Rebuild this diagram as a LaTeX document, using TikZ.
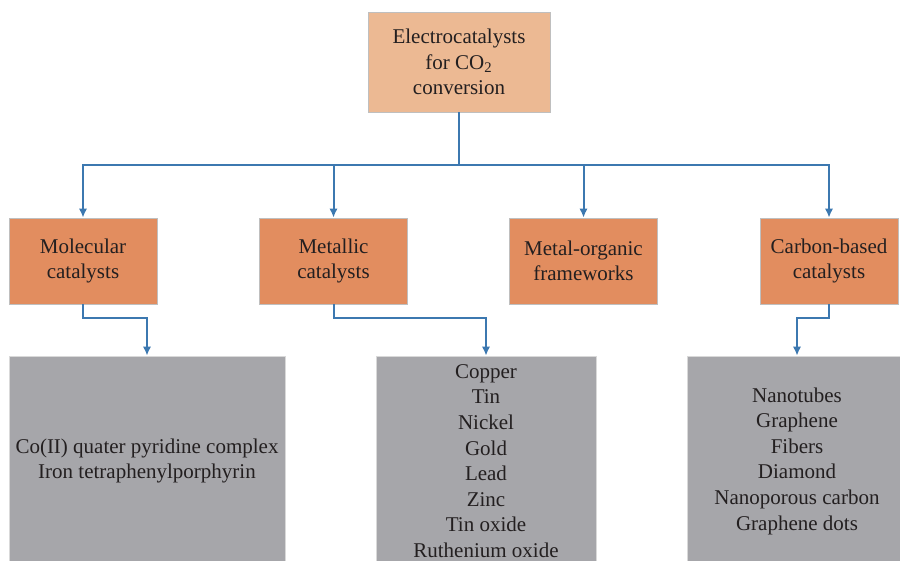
\documentclass[tikz,border=0pt]{standalone}
\usepackage{fontspec}
\setmainfont{Liberation Serif}
\usetikzlibrary{arrows.meta}
\definecolor{paleorange}{RGB}{236,185,147}
\definecolor{midorange}{RGB}{226,141,95}
\definecolor{boxgray}{RGB}{166,166,170}
\definecolor{linkblue}{RGB}{60,120,176}
\definecolor{inkgray}{RGB}{35,31,32}
\begin{document}
\begin{tikzpicture}[x=0.5pt, y=-0.5pt,
        every node/.style={font=\fontsize{10.5}{12.8}\selectfont, text=inkgray, align=center, inner sep=0pt},
        rootbox/.style={fill=paleorange, draw=black!25, line width=0.4pt, minimum width=91pt, minimum height=50pt},
        classbox/.style={fill=midorange, draw=black!25, line width=0.4pt, minimum width=74pt, minimum height=43pt},
        listbox/.style={fill=boxgray, draw=black!15, line width=0.4pt, minimum width=110pt, minimum height=105pt},
        link/.style={linkblue, line width=1pt},
        arr/.style={link, -{Latex[length=4.5pt, width=4.2pt]}}]
    \clip (0,0) rectangle (900,561);

    \node[rootbox] (root) at (459,62) {Electrocatalysts\\for CO\textsubscript{2}\\conversion};

    \node[classbox] (mol) at (83,261) {Molecular\\catalysts};
    \node[classbox] (met) at (333.5,261) {Metallic\\catalysts};
    \node[classbox] (mof) at (583.5,261) {Metal-organic\\frameworks};
    \node[classbox, minimum width=69pt] (carb) at (829,261) {Carbon-based\\catalysts};

    \node[listbox, minimum width=138pt] (molitems) at (147,461) {Co(II) quater pyridine complex\\Iron tetraphenylporphyrin};
    \node[listbox] (metitems) at (486,461) {Copper\\Tin\\Nickel\\Gold\\Lead\\Zinc\\Tin oxide\\Ruthenium oxide};
    \node[listbox] (carbitems) at (797,461) {Nanotubes\\Graphene\\Fibers\\Diamond\\Nanoporous carbon\\Graphene dots};

    \path (root.south) ++(0,53) coordinate (hub);
    \draw[link] (root.south) -- (hub);
    \foreach \n in {mol,met,mof,carb}
        \draw[arr] (hub) -| (\n.north);

    \draw[arr] (mol.south) -- ++(0,14) -| (molitems.north);
    \draw[arr] (met.south) -- ++(0,14) -| (metitems.north);
    \draw[arr] (carb.south) -- ++(0,14) -| (carbitems.north);
\end{tikzpicture}
\end{document}
